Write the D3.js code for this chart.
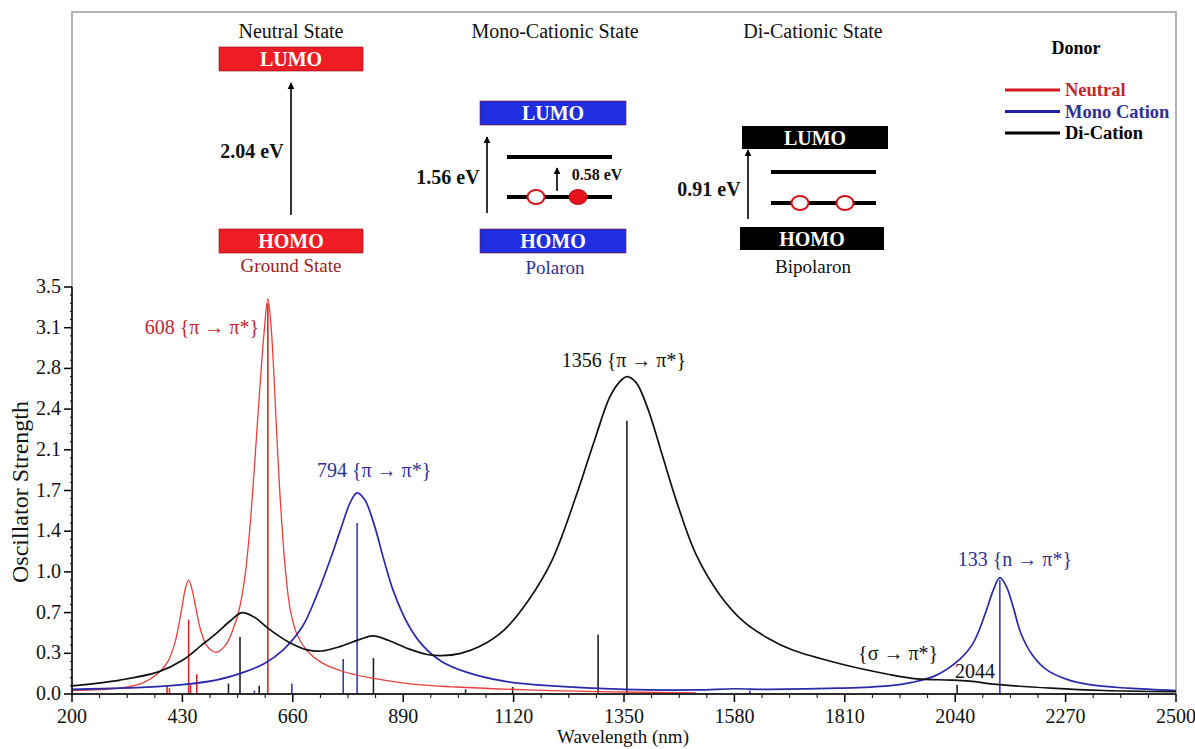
<!DOCTYPE html>
<html>
<head>
<meta charset="utf-8">
<script src="https://cdn.jsdelivr.net/npm/d3@7/dist/d3.min.js"></script>
<style>
  html, body { margin: 0; padding: 0; background: #fff; }
  svg { display: block; font-family: "Liberation Serif", "Times New Roman", serif; }
</style>
</head>
<body>
<svg id="chart" width="1195" height="749"></svg>
<script>
// ---- Spectra: [wavelength (nm), oscillator strength] ----
const neutralCurve = [
  [200,0.03],[300,0.05],[350,0.10],[380,0.18],[400,0.28],[415,0.45],[428,0.72],[437,0.92],
  [443,0.98],[450,0.90],[458,0.74],[468,0.55],[480,0.42],[492,0.37],[502,0.36],[520,0.42],
  [535,0.55],[548,0.72],[560,1.00],[570,1.40],[580,1.95],[590,2.55],[600,3.10],[608,3.40],
  [614,3.20],[620,2.80],[627,2.20],[635,1.60],[645,1.05],[655,0.72],[670,0.50],[690,0.37],
  [720,0.27],[760,0.20],[820,0.14],[900,0.09],[1000,0.06],[1150,0.035],[1300,0.02],[1500,0.01]
];
const monoCurve = [
  [200,0.04],[400,0.07],[500,0.12],[560,0.19],[600,0.26],[640,0.38],[680,0.58],[710,0.85],
  [740,1.18],[760,1.42],[780,1.65],[794,1.73],[810,1.67],[830,1.45],[850,1.15],[870,0.88],
  [900,0.60],[930,0.42],[970,0.28],[1020,0.19],[1100,0.11],[1200,0.07],[1350,0.04],[1500,0.035],
  [1580,0.045],[1650,0.04],[1800,0.05],[1900,0.07],[1950,0.10],[2000,0.16],[2050,0.30],
  [2075,0.42],[2090,0.55],[2105,0.72],[2120,0.90],[2133,1.00],[2146,0.93],[2160,0.76],
  [2177,0.52],[2200,0.34],[2230,0.21],[2270,0.13],[2320,0.08],[2400,0.05],[2500,0.03]
];
const dicationCurve = [
  [200,0.07],[300,0.12],[380,0.19],[430,0.29],[470,0.42],[500,0.52],[530,0.63],[554,0.70],
  [580,0.66],[610,0.56],[650,0.45],[690,0.38],[720,0.37],[760,0.41],[800,0.47],[827,0.50],
  [860,0.46],[900,0.39],[940,0.34],[970,0.33],[1010,0.35],[1050,0.41],[1100,0.55],[1150,0.80],
  [1200,1.15],[1250,1.70],[1290,2.20],[1320,2.55],[1340,2.68],[1356,2.73],[1375,2.68],
  [1400,2.45],[1430,2.05],[1460,1.65],[1500,1.20],[1550,0.85],[1600,0.62],[1650,0.48],
  [1700,0.38],[1800,0.26],[1900,0.17],[1960,0.13],[2030,0.12],[2070,0.11],[2133,0.08],
  [2240,0.05],[2350,0.03],[2500,0.02]
];

// ---- Transitions (stick spectra) ----
const neutralSticks = [[398,0.07],[403,0.05],[443,0.64],[447,0.08],[460,0.17],[608,3.36]];
const monoSticks = [[580,0.03],[658,0.09],[765,0.30],[794,1.47],[1612,0.03],[2133,0.98]];
const dicationSticks = [[526,0.09],[550,0.49],[590,0.07],[828,0.31],[1020,0.04],[1118,0.06],
  [1296,0.51],[1356,2.35],[2044,0.08]];

// ---- Axes ----
const xTicks = [200,430,660,890,1120,1350,1580,1810,2040,2270,2500];
const yTickValues = [0,0.35,0.70,1.05,1.40,1.75,2.10,2.45,2.80,3.15,3.50];
const yTickLabels = ["0.0","0.3","0.7","1.0","1.4","1.7","2.1","2.4","2.8","3.1","3.5"];

// ---- Series / legend ----
const seriesNames = ["Neutral","Mono Cation","Di-Cation"];
const curveColors = ["#e8403c","#2a2aaa","#111111"];
const stickColors = ["#d42a2a","#3a3ab8","#222222"];
const legendColors = ["#d71920","#1f1fa8","#000000"];
const legendTextColors = ["#c1272d","#2e3192","#000000"];

const svg = d3.select("#chart");
const x = d3.scaleLinear().domain([200,2500]).range([72,1176]);
const y = d3.scaleLinear().domain([0,3.5]).range([694,287]);

// outer frame
svg.append("rect").attr("x",72).attr("y",12).attr("width",1104).attr("height",682)
  .attr("fill","none").attr("stroke","#9a9a9a").attr("stroke-width",1.5);

const plot = svg.append("g");
const clip = svg.append("clipPath").attr("id","clip");
clip.append("rect").attr("x",72).attr("y",12).attr("width",1104).attr("height",682);

const curves = [neutralCurve, monoCurve, dicationCurve];
const sticks = [neutralSticks, monoSticks, dicationSticks];

// sticks
sticks.forEach((s, i) => {
  plot.append("g").selectAll("line").data(s).join("line")
    .attr("x1", d => x(d[0])).attr("x2", d => x(d[0]))
    .attr("y1", y(0)).attr("y2", d => y(d[1]))
    .attr("stroke", stickColors[i]).attr("stroke-width", 1.6);
});

// curves
const line = d3.line().x(d => x(d[0])).y(d => y(d[1])).curve(d3.curveCatmullRom.alpha(0.5));
curves.forEach((c, i) => {
  plot.append("path").datum(c).attr("d", line).attr("fill","none")
    .attr("clip-path","url(#clip)")
    .attr("stroke", curveColors[i]).attr("stroke-width", i === 0 ? 1.3 : 1.7);
});

// x axis
const xAxis = svg.append("g").attr("transform", `translate(0,${y(0)})`);
xAxis.append("line").attr("x1",72).attr("x2",1176).attr("stroke","#000").attr("stroke-width",1.5);
const xMinor = d3.range(200, 2500, 57.5).filter(v => !xTicks.includes(v));
xAxis.selectAll(".xmin").data(xMinor).join("line")
  .attr("x1", d => x(d)).attr("x2", d => x(d)).attr("y1",0).attr("y2",4)
  .attr("stroke","#000").attr("stroke-width",1);
xAxis.selectAll(".xmaj").data(xTicks).join("line")
  .attr("x1", d => x(d)).attr("x2", d => x(d)).attr("y1",0).attr("y2",8)
  .attr("stroke","#000").attr("stroke-width",1.5);
xAxis.selectAll("text").data(xTicks).join("text")
  .attr("x", d => x(d)).attr("y",29).attr("text-anchor","middle")
  .attr("font-size",20).attr("fill","#111").text(d => d);
svg.append("text").attr("x",623).attr("y",743).attr("text-anchor","middle")
  .attr("font-size",19).attr("fill","#111").text("Wavelength (nm)");

// y axis
const yAxis = svg.append("g").attr("transform","translate(72,0)");
yAxis.append("line").attr("y1",y(0)).attr("y2",y(3.5)).attr("stroke","#000").attr("stroke-width",1.5);
const yMinor = d3.range(0, 3.5, 0.07).filter((v, i) => i % 5 !== 0);
yAxis.selectAll(".ymin").data(yMinor).join("line")
  .attr("x1",-2).attr("x2",0).attr("y1", d => y(d)).attr("y2", d => y(d))
  .attr("stroke","#000").attr("stroke-width",1);
yAxis.selectAll(".ymaj").data(yTickValues).join("line")
  .attr("x1",-8).attr("x2",0).attr("y1", d => y(d)).attr("y2", d => y(d))
  .attr("stroke","#000").attr("stroke-width",1.5);
yAxis.selectAll("text").data(yTickValues).join("text")
  .attr("x",-11).attr("y", d => y(d) + 6).attr("text-anchor","end")
  .attr("font-size",20).attr("fill","#111").text((d, i) => yTickLabels[i]);
svg.append("text").attr("transform","translate(28,492) rotate(-90)").attr("text-anchor","middle")
  .attr("font-size",24).attr("fill","#111").text("Oscillator Strength");

// peak annotations
const annotations = [
  {text:"608 {π → π*}", x:608, v:3.40, dx:-66, dy:35, color:"#c1272d"},
  {text:"794 {π → π*}", x:794, v:1.73, dx:17, dy:-16, color:"#2e3192"},
  {text:"1356 {π → π*}", x:1356, v:2.73, dx:-3, dy:-10, color:"#111"},
  {text:"133 {n → π*}", x:2133, v:1.00, dx:15, dy:-12, color:"#2e3192"},
  {text:"{σ → π*}", x:2044, v:0.12, dx:-59, dy:-20, color:"#111"},
  {text:"2044", x:2044, v:0.12, dx:18, dy:-2, color:"#111"}
];
svg.selectAll(".ann").data(annotations).join("text")
  .attr("x", d => x(d.x) + d.dx).attr("y", d => y(d.v) + d.dy)
  .attr("text-anchor","middle").attr("font-size",20).attr("fill", d => d.color).text(d => d.text);

// legend
const lg = svg.append("g");
lg.append("text").attr("x",1076).attr("y",54).attr("text-anchor","middle")
  .attr("font-size",18).attr("font-weight","bold").text("Donor");
seriesNames.forEach((n, i) => {
  const yy = 90 + i * 21.5;
  lg.append("line").attr("x1",1005).attr("x2",1060).attr("y1",yy).attr("y2",yy)
    .attr("stroke",legendColors[i]).attr("stroke-width",3);
  lg.append("text").attr("x",1065).attr("y",yy + 6).attr("font-size",18.5)
    .attr("font-weight","bold").attr("fill",legendTextColors[i]).text(n);
});

// ---- energy level diagrams ----
const defs = svg.append("defs");
defs.append("marker").attr("id","arrow").attr("viewBox","0 0 10 10")
  .attr("refX",9).attr("refY",5).attr("markerWidth",7).attr("markerHeight",10)
  .attr("markerUnits","userSpaceOnUse").attr("orient","auto")
  .append("path").attr("d","M0,0 L10,5 L0,10 z").attr("fill","#000");

const diag = svg.append("g");
function levelBox(x0, y0, w, h, fill, label) {
  diag.append("rect").attr("x",x0).attr("y",y0).attr("width",w).attr("height",h)
    .attr("fill",fill).attr("stroke", fill === "#000" ? "#000" : "#8a0a0a").attr("stroke-width", fill === "#000" ? 0 : 0.6);
  diag.append("text").attr("x",x0 + w/2).attr("y",y0 + h/2 + 7).attr("text-anchor","middle")
    .attr("font-size",20).attr("font-weight","bold").attr("fill","#fff").text(label);
}
function arrow(x0, y1, y2) {
  diag.append("line").attr("x1",x0).attr("x2",x0).attr("y1",y1).attr("y2",y2)
    .attr("stroke","#000").attr("stroke-width",1.6).attr("marker-end","url(#arrow)");
}
function txt(x0, y0, s, opts) {
  const t = diag.append("text").attr("x",x0).attr("y",y0).attr("text-anchor","middle")
    .attr("font-size",opts.size || 20).attr("fill",opts.color || "#111").text(s);
  if (opts.bold) t.attr("font-weight","bold");
}
function bar(x1, x2, y0) {
  diag.append("line").attr("x1",x1).attr("x2",x2).attr("y1",y0).attr("y2",y0)
    .attr("stroke","#000").attr("stroke-width",4);
}
function dot(cx, cy, filled) {
  diag.append("ellipse").attr("cx",cx).attr("cy",cy).attr("rx",8.5).attr("ry",7)
    .attr("fill", filled ? "#e8141b" : "#fff").attr("stroke","#d0141b").attr("stroke-width",2);
}

// neutral
txt(291, 38, "Neutral State", {});
levelBox(219, 47, 144, 24, "#ee1c24", "LUMO");
levelBox(219, 229, 144, 24, "#ee1c24", "HOMO");
arrow(291, 215, 83);
txt(252, 158, "2.04 eV", {bold:true});
txt(291, 272, "Ground State", {color:"#a01c22", size:19});

// mono-cation
txt(555, 38, "Mono-Cationic State", {});
levelBox(480, 101, 146, 24, "#1f2fe0", "LUMO");
levelBox(480, 229, 146, 24, "#1f2fe0", "HOMO");
arrow(487, 213, 137);
txt(448, 184, "1.56 eV", {bold:true});
bar(507, 612, 157);
bar(507, 612, 197);
dot(536, 197, false);
dot(578, 197, true);
arrow(557, 191, 168);
txt(597, 180, "0.58 eV", {bold:true, size:16});
txt(555, 274, "Polaron", {color:"#2e3192", size:19});

// di-cation
txt(813, 38, "Di-Cationic State", {});
levelBox(742, 126, 146, 23, "#000", "LUMO");
levelBox(740, 227, 144, 23, "#000", "HOMO");
arrow(748, 219, 150);
txt(709, 196, "0.91 eV", {bold:true});
bar(771, 876, 172);
bar(771, 876, 203);
dot(800, 203, false);
dot(845, 203, false);
txt(813, 273, "Bipolaron", {size:19});
</script>
</body>
</html>
